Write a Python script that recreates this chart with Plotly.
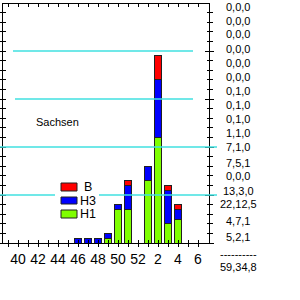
import plotly.graph_objects as go

# ---- data ----
weeks = [40, 41, 42, 43, 44, 45, 46, 47, 48, 49, 50, 51, 52, 1, 2, 3, 4]
axis_weeks = weeks + [5, 6]
h1 = [0, 0, 0, 0, 0, 0, 0, 0, 0, 1, 7, 7, 0, 13, 22, 4, 5]
h3 = [0, 0, 0, 0, 0, 0, 1, 1, 1, 1, 1, 5, 0, 3, 12, 7, 2]
b = [0, 0, 0, 0, 0, 0, 0, 0, 0, 0, 0, 1, 0, 0, 5, 1, 1]
ref_levels = [10, 20, 30, 40]
region = "Sachsen"

# ---- layout geometry (pixels) ----
W, H = 300, 300
X0, X1, Y0, Y1 = 3, 209, 4, 243


def px(x):
    return (x - X0) / (X1 - X0)


def py(y):
    return (Y1 - y) / (Y1 - Y0)


GREEN, BLUE, RED = "#7FFF00", "#0000FF", "#FF0000"
EDGE = "#202020"
CYAN = "#40E0E0"

xs = list(range(len(weeks)))
fig = go.Figure()
for name, vals, col in [("H1", h1, GREEN), ("H3", h3, BLUE), ("B", b, RED)]:
    fig.add_trace(go.Bar(x=xs, y=vals, name=name, width=0.74,
                         marker=dict(color=col, line=dict(color=EDGE, width=1)),
                         showlegend=False))

xr = [-1.5, 19.1]
yr = [0, 49.8]
tickpos = list(range(-1, len(axis_weeks)))
ticktxt = [""] + [str(w) if i % 2 == 0 else "" for i, w in enumerate(axis_weeks)]

fig.update_layout(
    width=W, height=H, barmode="stack",
    margin=dict(l=X0, r=W - X1, t=Y0, b=H - Y1, autoexpand=False),
    paper_bgcolor="white", plot_bgcolor="white",
    font=dict(family="Liberation Sans, Arial, sans-serif", color="black"),
    xaxis=dict(range=xr, showline=True, linecolor="black", linewidth=1,
               ticks="outside", ticklen=3, tickcolor="black",
               tickmode="array", tickvals=tickpos, ticktext=ticktxt,
               tickfont=dict(size=14, family="Liberation Sans Narrow, Arial Narrow, Liberation Sans, sans-serif"),
               showgrid=False, zeroline=False, fixedrange=True),
    xaxis2=dict(range=xr, overlaying="x", side="bottom", anchor="y",
                ticks="inside", ticklen=3, tickcolor="black",
                tickmode="array", tickvals=tickpos, showticklabels=False,
                showgrid=False, zeroline=False, showline=False),
    xaxis3=dict(range=xr, overlaying="x", side="top", anchor="y",
                ticks="inside", ticklen=3, tickcolor="black",
                tickmode="array", tickvals=tickpos, showticklabels=False,
                showgrid=False, zeroline=False, showline=True,
                linecolor="black", linewidth=1),
    yaxis=dict(range=yr, showline=True, linecolor="black", linewidth=1,
               ticks="outside", ticklen=3, tickcolor="black", dtick=2,
               showticklabels=False, showgrid=False, zeroline=False),
    yaxis2=dict(range=yr, overlaying="y", side="left", anchor="x",
                ticks="inside", ticklen=3, tickcolor="black", dtick=2,
                showticklabels=False, showgrid=False, zeroline=False),
    yaxis3=dict(range=yr, overlaying="y", side="right", anchor="x",
                showline=True, linecolor="black", linewidth=1,
                ticks="outside", ticklen=4, tickcolor="black", dtick=10,
                minor=dict(ticks="outside", ticklen=3, dtick=2, tickcolor="black"),
                showticklabels=False, showgrid=False, zeroline=False),
    yaxis4=dict(range=yr, overlaying="y", side="right", anchor="x",
                ticks="inside", ticklen=4, tickcolor="black", dtick=10,
                minor=dict(ticks="inside", ticklen=2, dtick=2, tickcolor="black"),
                showticklabels=False, showgrid=False, zeroline=False),
    showlegend=False,
)
# dummy traces to activate overlay axes
fig.add_trace(go.Scatter(x=[None], y=[None], xaxis="x2", yaxis="y2", showlegend=False))
fig.add_trace(go.Scatter(x=[None], y=[None], xaxis="x3", yaxis="y3", showlegend=False))
fig.add_trace(go.Scatter(x=[None], y=[None], xaxis="x", yaxis="y4", showlegend=False))

# reference lines (cyan)
line_extents = {10: (0, 217), 20: (0, 217), 30: (15, 193), 40: (13, 193)}
shapes = []
for lv in ref_levels:
    a, c = line_extents[lv]
    shapes.append(dict(type="line", xref="paper", yref="y", x0=px(a), x1=px(c),
                       y0=lv, y1=lv, line=dict(color=CYAN, width=1.5), layer="above"))

# manual legend
shapes.append(dict(type="rect", xref="paper", yref="paper", x0=px(55), x1=px(99),
                   y0=py(221), y1=py(180), fillcolor="white", line=dict(width=0), layer="above"))
legend_items = [("B", RED, 183, 191, 187), ("H3", BLUE, 197, 204, 200.5), ("H1", GREEN, 210, 218, 214)]
annotations = []
for name, col, ya, yb, yc in legend_items:
    shapes.append(dict(type="rect", xref="paper", yref="paper", x0=px(61), x1=px(77),
                       y0=py(yb), y1=py(ya), fillcolor=col,
                       line=dict(color=EDGE, width=1), layer="above"))
    annotations.append(dict(x=px(87.5), y=py(yc), xref="paper", yref="paper", text=name,
                            showarrow=False, xanchor="center", yanchor="middle",
                            font=dict(size=12.5, color="black")))

annotations.append(dict(x=px(57), y=py(122), xref="paper", yref="paper", text=region,
                        showarrow=False, xanchor="center", yanchor="middle",
                        font=dict(size=11, color="black")))

# right-hand table of weekly counts
row_y = [6.7, 20.7, 34.3, 49, 62.7, 77, 91, 105, 119, 133.3, 146.7, 162.7,
         176, 190.7, 204.3, 221, 237]
TFS = 11
for i in range(len(weeks)):
    annotations.append(dict(x=px(238), y=py(row_y[i]), xref="paper", yref="paper",
                            text=f"{h1[i]},{h3[i]},{b[i]}", showarrow=False,
                            xanchor="center", yanchor="middle",
                            font=dict(size=TFS, color="black")))
annotations.append(dict(x=px(238), y=py(254), xref="paper", yref="paper",
                        text="----------", showarrow=False, xanchor="center",
                        yanchor="middle", font=dict(size=TFS, color="black")))
annotations.append(dict(x=px(238), y=py(266.7), xref="paper", yref="paper",
                        text=f"{sum(h1)},{sum(h3)},{sum(b)}", showarrow=False,
                        xanchor="center", yanchor="middle",
                        font=dict(size=TFS, color="black")))

fig.update_layout(shapes=shapes, annotations=annotations)
fig.write_html("out.html")
